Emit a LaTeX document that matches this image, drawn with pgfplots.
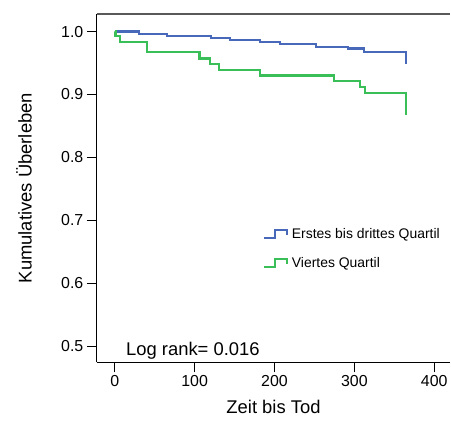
\documentclass[border=0pt]{standalone}
\usepackage{fontspec}
\setmainfont{Liberation Sans}
\usepackage{pgfplots}
\pgfplotsset{compat=1.18}
\definecolor{kmblue}{RGB}{72,104,186}
\definecolor{kmgreen}{RGB}{58,190,88}
\begin{document}
\begin{tikzpicture}
\begin{axis}[
    scale only axis,
    width=354bp, height=349bp,
    xmin=-22.5, xmax=420,
    ymin=0.474, ymax=1.028,
    axis x line*=bottom,
    axis y line*=left,
    axis line style={black, line width=0.8bp},
    xtick={0,100,200,300,400},
    ytick={0.5,0.6,0.7,0.8,0.9,1.0},
    tick align=outside,
    major tick length=10bp,
    tick style={black, line width=0.8bp},
    /pgf/number format/assume math mode=true,
    tick label style={font=\fontsize{16}{19}\selectfont},
    yticklabel style={/pgf/number format/.cd, fixed, fixed zerofill, precision=1},
    xticklabel style={/pgf/number format/.cd, fixed},
    xlabel={Zeit bis Tod},
    ylabel={Kumulatives Überleben},
    label style={font=\fontsize{18.5}{22}\selectfont},
    xlabel style={at={(axis description cs:0.5,-0.127)}, anchor=center},
    ylabel style={at={(axis description cs:-0.206,0.5)}, anchor=center},
    clip=false,
    legend style={draw=none, fill=none, font=\fontsize{14}{17}\selectfont,
        at={(rel axis cs:0.462,0.396)}, anchor=north west,
        row sep=13bp, nodes={inner xsep=3.5bp}},
    legend cell align=left,
    legend image code/.code={
        \draw[#1] (0bp,-4bp) -- (11bp,-4bp) -- (11bp,4bp) -- (23bp,4bp) -- (23bp,-1bp);
    },
]
% extent of the page
\path (rel axis cs:-0.274,-0.166) (rel axis cs:1,1.040);
\draw[black!65, line width=1.6bp] (rel axis cs:0,1) -- (rel axis cs:1,1);

\addlegendimage{kmblue, line width=2.2bp}
\addlegendentry{Erstes bis drittes Quartil}
\addlegendimage{kmgreen, line width=2.2bp}
\addlegendentry{Viertes Quartil}

\addplot[const plot, kmblue, line width=2.2bp, forget plot] coordinates {
    (0,1.000) (30,0.996) (65,0.993) (120,0.990) (144,0.987) (182,0.984)
    (207,0.980) (252,0.976) (292,0.973) (312,0.968) (365,0.948)
};
\addplot[const plot, kmgreen, line width=2.2bp, forget plot] coordinates {
    (0,1.000) (1,0.993) (6.5,0.984) (40,0.967) (106,0.957) (119,0.948)
    (130,0.939) (182,0.930) (274,0.921) (307,0.912) (313,0.902) (365,0.867)
};

\node[anchor=base west, font=\fontsize{18.5}{22}\selectfont] at (rel axis cs:0.073,0.02) {Log rank= 0.016};
\end{axis}
\end{tikzpicture}
\end{document}
